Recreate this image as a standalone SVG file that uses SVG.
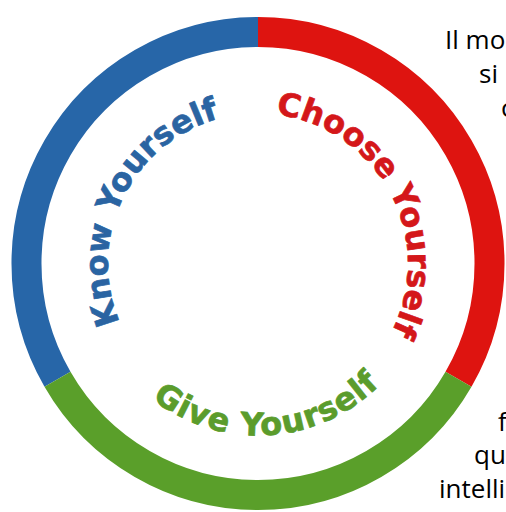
<svg xmlns="http://www.w3.org/2000/svg" xmlns:xlink="http://www.w3.org/1999/xlink" width="506" height="512" viewBox="0 0 506 512">
<style>
.seg{fill:none;stroke-width:30;stroke-linecap:butt}
.lbl{font-family:"DejaVu Sans",Verdana,sans-serif;font-weight:bold;font-size:32px;stroke-width:0.7;stroke-linejoin:round}
.body{font-family:"Open Sans","Noto Sans",sans-serif;font-size:26px;fill:#000}
</style>
<defs>
<path id="pKnow" d="M150.1,367.7 A150,150 0 0 1 273.7,114.3"/>
<path id="pChoose" d="M236.9,115 A150,150 0 0 1 369.6,363.7"/>
<path id="pGive" d="M100.5,332.6 A172,172 0 0 0 423.1,311.8"/>
</defs>
<rect width="506" height="512" fill="#fff"/>
<g id="body-text" class="body">
<text x="445" y="49">Il mo</text>
<text x="479" y="83">si</text>
<text x="501" y="117">c</text>
<text x="498" y="431">f</text>
<text x="474" y="464">qu</text>
<text x="439" y="498">intelli</text>
</g>
<g id="ring">
<path id="seg-know" class="seg" stroke="#2766a8" d="M57.5,379.25 A231.5,231.5 0 0 1 258,32"/>
<path id="seg-choose" class="seg" stroke="#de1410" d="M258,32 A231.5,231.5 0 0 1 458.5,379.25"/>
<path id="seg-give" class="seg" stroke="#5a9f2a" d="M458.5,379.25 A231.5,231.5 0 0 1 57.5,379.25"/>
</g>
<g id="know"><text class="lbl" fill="#2a64a2" stroke="#2a64a2"><textPath xlink:href="#pKnow" href="#pKnow" startOffset="50%" text-anchor="middle">Know Yourself</textPath></text></g>
<g id="choose"><text class="lbl" fill="#d4171a" stroke="#d4171a"><textPath xlink:href="#pChoose" href="#pChoose" startOffset="50%" text-anchor="middle">Choose Yourself</textPath></text></g>
<g id="give"><text class="lbl" fill="#5b9c2c" stroke="#5b9c2c" letter-spacing="1"><textPath xlink:href="#pGive" href="#pGive" startOffset="50%" text-anchor="middle">Give Yourself</textPath></text></g>
</svg>
